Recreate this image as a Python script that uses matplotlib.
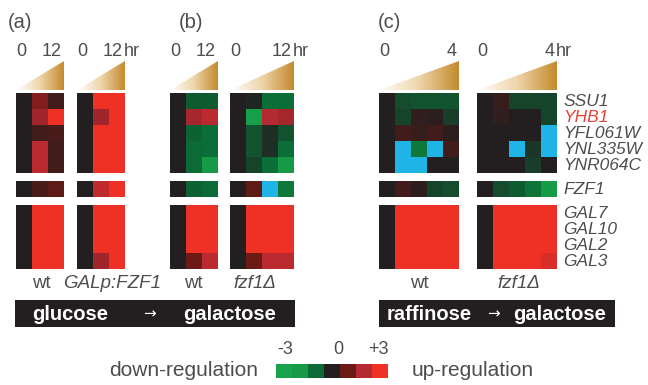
import numpy as np
import matplotlib
matplotlib.use('Agg')
import matplotlib.pyplot as plt
from matplotlib.colors import LinearSegmentedColormap, Normalize
from matplotlib.patches import Polygon, Rectangle

nan = np.nan

genes = ['SSU1', 'YHB1', 'YFL061W', 'YNL335W', 'YNR064C',
         'FZF1', 'GAL7', 'GAL10', 'GAL2', 'GAL3']

# log2 expression ratios, one row per gene, columns = time points (first is 0 hr)
a_wt = [[0, 1.3, 0.4],
        [0, 1.7, 3.0],
        [0, 0.4, 0.5],
        [0, 2.1, 0.4],
        [0, 2.1, 0.4],
        [0, 0.5, 0.8],
        [0, 3.0, 3.0],
        [0, 3.0, 3.0],
        [0, 3.0, 3.0],
        [0, 3.0, 3.0]]
a_galp = [[0, 3.0, 3.0],
          [0, 1.7, 3.0],
          [0, 3.0, 3.0],
          [0, 3.0, 3.0],
          [0, 3.0, 3.0],
          [0, 2.2, 3.0],
          [0, 3.0, 3.0],
          [0, 3.0, 3.0],
          [0, 3.0, 3.0],
          [0, 1.7, 3.0]]
b_wt = [[0, -0.8, -0.8],
        [0, 1.8, 2.1],
        [0, -0.9, -1.1],
        [0, -1.0, -1.1],
        [0, -1.0, -2.0],
        [0, -0.9, -1.0],
        [0, 3.0, 3.0],
        [0, 3.0, 3.0],
        [0, 3.0, 3.0],
        [0, 1.0, 2.1]]
b_fzf1 = [[0, -0.1, -1.1, -1.1],
          [0, -2.8, 2.0, 1.8],
          [0, -0.7, -0.2, -0.7],
          [0, -0.7, -0.2, -1.1],
          [0, -0.5, -1.1, -2.0],
          [0, 0.8, nan, -1.3],
          [0, 3.0, 3.0, 3.0],
          [0, 3.0, 3.0, 3.0],
          [0, 3.0, 3.0, 3.0],
          [0, 1.0, 2.1, 2.1]]
c_wt = [[0, -0.6, -0.7, -0.7, -0.7],
        [0, -0.5, 0.2, 0.1, -0.4],
        [0, 0.4, 0.3, 0.4, 0.1],
        [0, nan, -1.3, nan, 0.4],
        [0, nan, nan, 0.0, 0.0],
        [0, 0.4, 0.1, -0.5, -0.6],
        [0, 3.0, 3.0, 3.0, 3.0],
        [0, 3.0, 3.0, 3.0, 3.0],
        [0, 3.0, 3.0, 3.0, 3.0],
        [0, 3.0, 3.0, 3.0, 3.0]]
c_fzf1 = [[0, 0.3, -0.5, -0.5, -0.5],
          [0, 0.2, 0.0, 0.0, -0.5],
          [0, 0.0, 0.0, 0.0, nan],
          [0, 0.0, nan, -0.3, nan],
          [0, 0.0, 0.0, -0.4, 0.0],
          [0, -0.6, -0.8, -1.2, -2.2],
          [0, 3.0, 3.0, 3.0, 3.0],
          [0, 3.0, 3.0, 3.0, 3.0],
          [0, 3.0, 3.0, 3.0, 3.0],
          [0, 3.0, 3.0, 3.0, 2.6]]

legend_values = [-3, -2, -1, 0, 1, 2, 3]

TEXT = '#4d4d4d'
DARK = '#231f20'
plt.rcParams['font.family'] = ['Liberation Sans', 'DejaVu Sans']

cmap = LinearSegmentedColormap.from_list('gr', [
    (0.0, '#18a24b'), (1 / 6, '#169a48'), (2 / 6, '#0b6a36'), (0.5, DARK),
    (4 / 6, '#6c1a16'), (5 / 6, '#b52a33'), (1.0, '#ee3124')])
cmap.set_bad('#1fb3e6')
norm = Normalize(-3, 3)
gold = LinearSegmentedColormap.from_list('gold', ['#ffffff', '#eed5aa', '#c48a2e'])

fig = plt.figure(figsize=(6.48, 3.85), dpi=100)
ax = fig.add_axes([0, 0, 1, 1])

CELL = 16
ROW_Y = [93, 181, 205]          # top genes, FZF1, GAL genes
ROW_SPLIT = [(0, 5), (5, 6), (6, 10)]


def draw_strain(vals, x0):
    vals = np.array(vals, dtype=float)
    nc = vals.shape[1]
    x1 = x0 + CELL * nc
    for y0, (r0, r1) in zip(ROW_Y, ROW_SPLIT):
        part = vals[r0:r1]
        ax.imshow(part, cmap=cmap, norm=norm, interpolation='nearest',
                  extent=(x0, x1, y0 + CELL * len(part), y0), aspect='auto')
    # time ramp triangle
    im = ax.imshow(np.linspace(0, 1, 256).reshape(1, -1), cmap=gold,
                   extent=(x0, x1, 90, 61), aspect='auto')
    tri = Polygon([(x0, 90), (x1, 90), (x1, 61)], closed=True,
                  facecolor='none', edgecolor='none')
    ax.add_patch(tri)
    im.set_clip_path(tri)
    return x1


strains = [
    (a_wt, 16, '12', False, 'wt', False),
    (a_galp, 77, '12', True, 'GALp:FZF1', True),
    (b_wt, 170, '12', False, 'wt', False),
    (b_fzf1, 230, '12', True, 'fzf1Δ', True),
    (c_wt, 379, '4', False, 'wt', False),
    (c_fzf1, 477, '4', True, 'fzf1Δ', True),
]
name_x = [41, 112, 193, 255, 419, 519]

for (vals, x0, end, hr, name, ital), nx in zip(strains, name_x):
    x1 = draw_strain(vals, x0)
    ax.text(x0 + 5, 51, '0', ha='center', va='center', fontsize=13, color=TEXT)
    ax.text(x1 - 2, 51, end, ha='right', va='center', fontsize=13, color=TEXT)
    if hr:
        ax.text(x1 - 1, 51, 'hr', ha='left', va='center', fontsize=13, color=TEXT)
    ax.text(nx, 283, name, ha='center', va='center', fontsize=13.5, color=TEXT,
            style='italic' if ital else 'normal')

for lab, x in [('(a)', 20), ('(b)', 191), ('(c)', 389)]:
    ax.text(x, 23, lab, ha='center', va='center', fontsize=14.5, color=TEXT)

# gene names on the right
gene_y = [93 + CELL * i + 8 for i in range(5)] + [189] + [205 + CELL * i + 8 for i in range(4)]
for g, y in zip(genes, gene_y):
    ax.text(563, y, g, ha='left', va='center', fontsize=12.5, style='italic',
            family=['Liberation Sans Narrow', 'Liberation Sans'],
            color='#e8413a' if g == 'YHB1' else TEXT)

# carbon source shift bars
for bx0, bx1, src, sx, arx, gx in [(15, 295, 'glucose', 70, 150, 230),
                                   (379, 615, 'raffinose', 429, 493, 560)]:
    ax.add_patch(Rectangle((bx0, 300), bx1 - bx0, 27, color=DARK, lw=0))
    ax.text(sx, 314, src, ha='center', va='center', fontsize=14.5,
            fontweight='bold', color='white')
    ax.text(arx, 314, '→', ha='center', va='center', fontsize=11,
            color='white', family=['DejaVu Sans'])
    ax.text(gx, 314, 'galactose', ha='center', va='center', fontsize=14.5,
            fontweight='bold', color='white')

# colour legend
ax.imshow(np.array([legend_values], dtype=float), cmap=cmap, norm=norm,
          interpolation='nearest', extent=(276, 388, 378, 364), aspect='auto')
for lab, x in [('-3', 285), ('0', 338), ('+3', 378)]:
    ax.text(x, 350, lab, ha='center', va='center', fontsize=13, color=TEXT)
ax.text(258, 371, 'down-regulation', ha='right', va='center', fontsize=15, color=TEXT)
ax.text(412, 371, 'up-regulation', ha='left', va='center', fontsize=15, color=TEXT)

ax.set_xlim(0, 648)
ax.set_ylim(385, 0)
ax.axis('off')

fig.savefig('out.png', dpi=100, facecolor='white')
